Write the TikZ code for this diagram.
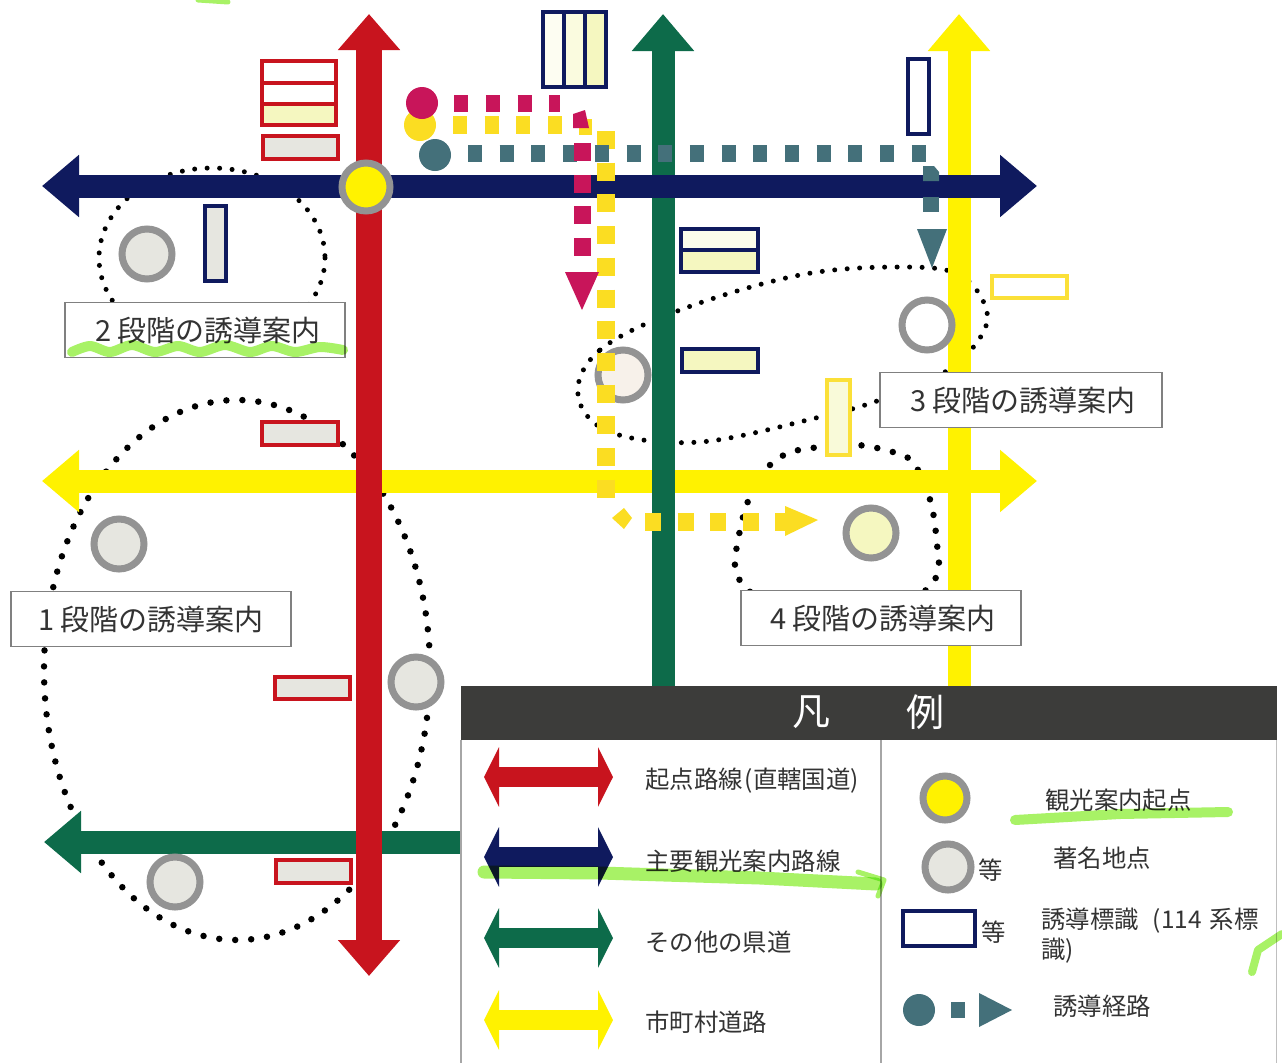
\documentclass[tikz,border=0pt]{standalone}
\usepackage{fontspec}
\setmainfont{Noto Sans CJK JP}
\usetikzlibrary{arrows.meta}
\definecolor{rRed}{HTML}{C8141E}
\definecolor{rNavy}{HTML}{0F1A5E}
\definecolor{rGreen}{HTML}{0D6B4A}
\definecolor{rYellow}{HTML}{FFF200}
\definecolor{pCrim}{HTML}{C8155A}
\definecolor{pGold}{HTML}{FBDD22}
\definecolor{pSlate}{HTML}{44707A}
\definecolor{sGrey}{HTML}{E6E6E0}
\definecolor{sPale}{HTML}{F5F7C0}
\definecolor{sBlush}{HTML}{F7F1EA}
\definecolor{hl}{HTML}{A8F266}
\definecolor{txt}{HTML}{333333}
\definecolor{head}{HTML}{3C3C3A}
\tikzset{
  x=1pt,y=-1pt,
  road/.style={line width=23pt,{Triangle[length=37pt,width=60pt]}-{Triangle[length=37pt,width=60pt]}},
  roadred/.style={line width=26pt,{Triangle[length=36pt,width=60pt]}-{Triangle[length=36pt,width=60pt]}},
  roadone/.style={line width=23pt,-{Triangle[length=37pt,width=60pt]}},
  legroad/.style={line width=20pt,{Triangle[length=15pt,width=59pt]}-{Triangle[length=15pt,width=59pt]}},
  bigdots/.style={draw=black,line width=6.5pt,line cap=round,dash pattern=on 0pt off 16pt},
  smalldots/.style={draw=black,line width=5pt,line cap=round,dash pattern=on 0pt off 12.5pt},
  ring/.style={draw=gray!85,line width=7pt},
  navysign/.style={draw=rNavy,line width=3.5pt},
  redsign/.style={draw=rRed,line width=3.5pt},
  goldsign/.style={draw=pGold!90,line width=3.5pt},
  stagebox/.style={draw=gray,line width=1.3pt,fill=white,minimum width=280pt,minimum height=55pt,inner sep=0pt,text=txt,font=\fontsize{29}{32}\selectfont},
  legtext/.style={anchor=west,inner sep=0pt,text=txt,font=\fontsize{24.4}{28}\selectfont},
  hlstroke/.style={draw=hl,line cap=round,line join=round,blend mode=multiply},
}
\begin{document}
\begin{tikzpicture}
\useasboundingbox (0,0) rectangle (1282,1063);
\fill[white] (0,0) rectangle (1282,1063);
% top-edge highlighter trace
\draw[hlstroke,line width=5pt] (198,0) -- (228,2);

% dotted stage areas
\draw[smalldots] (212,258) ellipse [x radius=113,y radius=90];
\draw[bigdots] (237,670) ellipse [x radius=193,y radius=270];
\draw[smalldots] plot[smooth cycle,tension=.6] coordinates {(578,395) (600,350) (680,310) (800,275) (900,267) (960,275) (987,312) (975,345) (940,375) (880,400) (820,417) (700,442) (610,432)};
\draw[bigdots] plot[smooth cycle,tension=.7] coordinates {(739,535) (770,465) (830,446) (885,450) (918,470) (936,535) (926,590) (835,625) (748,590)};

% roads
\coordinate (yvT) at (959,14); \coordinate (yvB) at (959,690);
\coordinate (gvT) at (663,14); \coordinate (gvB) at (663,690);
\coordinate (nL) at (42,186);  \coordinate (nR) at (1037,186);
\coordinate (yL) at (42,481);  \coordinate (yR) at (1037,481);
\coordinate (rT) at (369,14);  \coordinate (rB) at (369,976);
\coordinate (gL) at (44,842);  \coordinate (gR) at (462,842);
\draw[roadone,rYellow] (yvB) -- (yvT);
\draw[road,rYellow] (yL) -- (yR);
\draw[roadone,rGreen] (gvB) -- (gvT);
\draw[road,rNavy] (nL) -- (nR);
\draw[roadone,rGreen] (gR) -- (gL);
\draw[roadred,rRed] (rT) -- (rB);

% signs
\draw[redsign,fill=white] (262,61) rectangle (336,83);
\draw[redsign,fill=white] (262,83) rectangle (336,104);
\draw[redsign,fill=sPale] (262,104) rectangle (336,125);
\draw[redsign,fill=sGrey] (263,136) rectangle (338,159);
\draw[navysign,fill=sGrey] (205,206) rectangle (226,281);
\draw[navysign,fill=white!80!sPale] (543,12) rectangle (564,87);
\draw[navysign,fill=white!50!sPale] (564,12) rectangle (585,87);
\draw[navysign,fill=sPale] (585,12) rectangle (606,87);
\draw[navysign,fill=white] (908,59) rectangle (929,134);
\draw[navysign,fill=white!70!sPale] (681,229) rectangle (758,250);
\draw[navysign,fill=sPale] (681,250) rectangle (758,272);
\draw[navysign,fill=sPale] (682,349) rectangle (758,372);
\draw[goldsign,fill=white] (992,276) rectangle (1067,298);
\draw[goldsign,fill=white!40!sPale] (827,380) rectangle (850,455);
\draw[redsign,fill=sGrey] (262,422) rectangle (338,445);
\draw[redsign,fill=sGrey] (275,677) rectangle (350,699);
\draw[redsign,fill=sGrey] (276,860) rectangle (351,883);

% places
\draw[ring,fill=rYellow] (366,187) circle (24);
\draw[ring,fill=sGrey] (147,254) circle (25);
\draw[ring,fill=sGrey] (119,544) circle (25);
\draw[ring,fill=sGrey] (416,682) circle (25);
\draw[ring,fill=sGrey] (175,882) circle (25);
\draw[ring,fill=white] (927,325) circle (25);
\draw[ring,fill=sBlush] (623,375) circle (25);
\draw[ring,fill=sPale] (871,533) circle (25);

% route: gold
\fill[pGold] (420,125) circle (16);
\draw[pGold,line width=18pt,dash pattern=on 14pt off 17.7pt] (453,125) -- (566,125);
\fill[pGold] (579,119) rectangle (592,135);
\draw[pGold,line width=18pt,dash pattern=on 18pt off 13.7pt] (606,131) -- (606,500);
\fill[pGold] (612,518) -- (624,508) -- (632,518) -- (624,529) -- cycle;
\draw[pGold,line width=18pt,dash pattern=on 16pt off 16.5pt] (645,522) -- (787,522);
\fill[pGold] (785,506) -- (818,520) -- (785,536) -- cycle;

% route: slate
\fill[pSlate] (435,155) circle (16);
\draw[pSlate,line width=17pt,dash pattern=on 14pt off 17.7pt] (468,153) -- (927,153);
\fill[pSlate] (923,166) -- (934,166) -- (939,172) -- (939,181) -- (923,181) -- cycle;
\fill[pSlate] (923,197) rectangle (939,212);
\fill[pSlate] (917,229) -- (947,229) -- (932,268) -- cycle;

% route: crimson
\fill[pCrim] (422,103) circle (16);
\draw[pCrim,line width=17pt,dash pattern=on 14pt off 17.8pt] (454,103) -- (560,103);
\fill[pCrim] (573,114) -- (585,110) -- (589,128) -- (573,128) -- cycle;
\draw[pCrim,line width=17pt,dash pattern=on 18pt off 13.7pt] (582,143) -- (582,258);
\fill[pCrim] (565,272) -- (599,272) -- (582,310) -- cycle;

% stage labels
\node[stagebox] (st2) at (205,330) {\hspace*{6pt}2 段階の誘導案内};
\node[stagebox,minimum width=282pt] (st3) at (1021,400) {\hspace*{4pt}3 段階の誘導案内};
\node[stagebox] (st1) at (151,619) {1 段階の誘導案内};
\node[stagebox] (st4) at (881,618) {\hspace*{4pt}4 段階の誘導案内};
\draw[hlstroke,line width=10pt] plot[smooth] coordinates {(72,352) (90,346) (110,352) (132,345) (155,352) (178,346) (200,352) (225,345) (250,352) (272,346) (295,352) (320,347) (343,350)};

% legend
\fill[white] (461,740) rectangle (1277,1063);
\draw[gray!70,line width=1.2pt] (461,740) -- (461,1063);
\draw[gray!70,line width=1.2pt] (881,740) -- (881,1063);
\draw[gray!50,line width=1pt] (1276,740) -- (1276,1063);
\fill[head] (461,686) rectangle (1277,740);
\node[white,inner sep=0pt,font=\fontsize{38}{42}\selectfont] (legA) at (811,712) {凡};
\node[white,inner sep=0pt,font=\fontsize{38}{42}\selectfont] (legB) at (925,712) {例};

\coordinate (l1a) at (484,777); \coordinate (l1b) at (613,777);
\coordinate (l2a) at (484,857); \coordinate (l2b) at (613,857);
\coordinate (l3a) at (484,938); \coordinate (l3b) at (613,938);
\coordinate (l4a) at (484,1020); \coordinate (l4b) at (613,1020);
\draw[legroad,rRed] (l1a) -- (l1b);
\draw[legroad,rNavy] (l2a) -- (l2b);
\draw[legroad,rGreen] (l3a) -- (l3b);
\draw[legroad,rYellow] (l4a) -- (l4b);

\node[legtext] (t1) at (645,781) {起点路線\hspace{2pt}(直轄国道)};
\node[legtext] (t2) at (645,861) {主要観光案内路線};
\node[legtext] (t3) at (645,942) {その他の県道};
\node[legtext] (t4) at (645,1022) {市町村道路};

\draw[ring,fill=rYellow] (945,798) circle (22);
\draw[ring,fill=sGrey] (948,867) circle (23);
\node[legtext] (eq1) at (978,870) {等};
\draw[navysign,line width=4pt,fill=white] (903,911) rectangle (975,946);
\node[legtext] (eq2) at (981,932) {等};
\fill[pSlate] (919,1010) circle (16);
\fill[pSlate] (951,1002) rectangle (965,1018);
\fill[pSlate] (979,993) -- (1012,1010) -- (979,1027) -- cycle;

\node[legtext] (t5) at (1045,800) {観光案内起点};
\node[legtext] (t6) at (1053,858) {著名地点};
\node[legtext] (t7) at (1041,921) {誘導標識\hspace{14pt}(114\hspace{8pt}系標};
\node[legtext] (t8) at (1041,951) {識)};
\node[legtext] (t9) at (1053,1006) {誘導経路};

% highlighter strokes
\draw[hlstroke,line width=13pt] (484,872) -- (600,873) -- (760,878) -- (876,884);
\draw[hlstroke,line width=5pt] (858,872) -- (884,880) -- (878,896);
\draw[hlstroke,line width=10pt] (1015,820) -- (1120,814) -- (1228,812);
\draw[hlstroke,line width=8pt] (1252,972) -- (1258,950) -- (1282,934);
\end{tikzpicture}
\end{document}
